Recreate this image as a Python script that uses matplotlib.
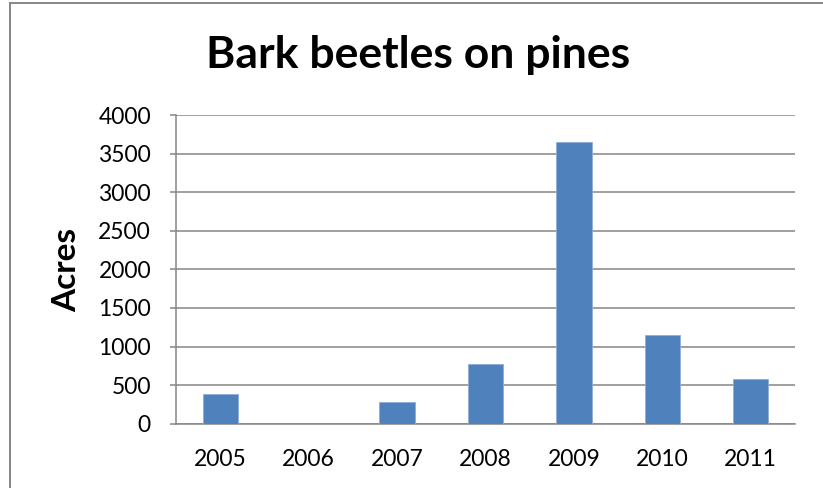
import matplotlib
matplotlib.use("Agg")
import matplotlib.pyplot as plt
from matplotlib.lines import Line2D

years = ["2005", "2006", "2007", "2008", "2009", "2010", "2011"]
acres = [380, 0, 275, 780, 3655, 1145, 575]
y_ticks = [0, 500, 1000, 1500, 2000, 2500, 3000, 3500, 4000]

plt.rcParams["font.family"] = ["Lato", "DejaVu Sans"]

fig = plt.figure(figsize=(8.23, 4.88), dpi=100)
ax = fig.add_axes([176 / 823, 1 - 423.7 / 488, (795 - 176) / 823, (423.7 - 115) / 488])

grid_color = "#868686"
x = range(len(years))
ax.bar(x, acres, width=0.4, color="#4F81BD", edgecolor="#8EACD6",
       linewidth=0.6, zorder=3)

ax.set_xlim(-0.5, len(years) - 0.5)
ax.set_ylim(0, 4000)
ax.set_yticks(y_ticks)
ax.set_yticklabels([str(v) for v in y_ticks])
ax.set_xticks(list(x))
ax.set_xticklabels(years)

ax.yaxis.grid(True, color=grid_color, linewidth=1.1, zorder=1)
ax.set_axisbelow(True)
for side in ("top", "right"):
    ax.spines[side].set_visible(False)
for side in ("left", "bottom"):
    ax.spines[side].set_color(grid_color)
    ax.spines[side].set_linewidth(1.1)

ax.tick_params(axis="y", direction="out", length=4, width=1.1, color=grid_color,
               labelsize=16.5, pad=14)
ax.tick_params(axis="x", length=0, labelsize=16.5, pad=18)

fig.text(67 / 823, 1 - 270 / 488, "Acres", fontsize=24, fontweight="bold",
         rotation=90, ha="center", va="center")
fig.text(418 / 823, 1 - 55 / 488, "Bark beetles on pines", fontsize=32,
         fontweight="bold", ha="center", va="center")

# chart frame (left and top edges)
fig.add_artist(Line2D([10 / 823, 10 / 823], [0, 1 - 3 / 488],
                      transform=fig.transFigure, color="#868686", linewidth=1.4))
fig.add_artist(Line2D([10 / 823, 1], [1 - 3 / 488, 1 - 3 / 488],
                      transform=fig.transFigure, color="#868686", linewidth=1.4))

fig.savefig("out.png", dpi=100)
